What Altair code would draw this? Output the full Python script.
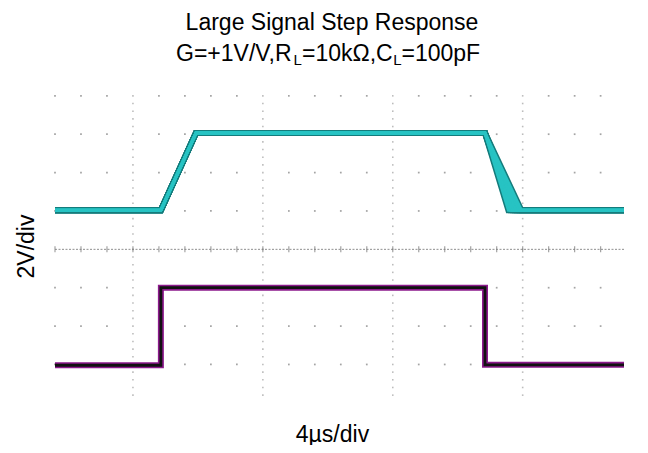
import altair as alt
import pandas as pd
import numpy as np

# ---- data (time in µs, 4 µs per grid column; voltage in V, 2 V per grid row) ----
out_x = [0.0, 16.3, 21.7, 66.2, 70.4, 87.6]
out_y = [2.04, 2.04, 6.06, 6.06, 2.04, 2.04]
out_fall_ends = [69.8, 70.1, 70.4, 70.7, 71.0, 71.4, 71.8]
in_x = [0.0, 16.3, 16.3, 66.2, 66.2, 87.6]
in_y = [-6.04, -6.04, -2.0, -2.0, -6.02, -6.02]

grid_cols = [4 * k for k in range(22)]
grid_rows = [8, 6, 4, 2, -2, -4, -6]
major_cols = [12, 32, 52, 72]
major_col_dots = [round(-7.6 + 0.4 * i, 2) for i in range(40)]

title_text = "Large Signal Step Response"

FONT = "Liberation Sans"
X_DOMAIN = [0, 87.6]
Y_DOMAIN = [-7.8, 8.2]

xs = alt.Scale(domain=X_DOMAIN, nice=False, zero=False)
ys = alt.Scale(domain=Y_DOMAIN, nice=False, zero=False)
xax = alt.Axis(labels=False, ticks=False, domain=False, grid=False, title="4µs/div",
               titleX=277, titleY=42, titleBaseline="alphabetic", titleAlign="center")
yax = alt.Axis(labels=False, ticks=False, domain=False, grid=False, title="2V/div",
               titleX=-22, titleY=154, titleBaseline="alphabetic", titleAlign="center", titleAngle=-90)

def X(f):
    return alt.X(f, type="quantitative", scale=xs, axis=xax)

def Y(f):
    return alt.Y(f, type="quantitative", scale=ys, axis=yax)

# traces table
rows = []
for j, fe in enumerate(out_fall_ends):
    xx = list(out_x)
    xx[4] = fe
    for i, (a, b) in enumerate(zip(xx, out_y)):
        rows.append({"trace": f"out{j}", "i": i, "t": a, "v": b})
out_df = pd.DataFrame(rows)
in_df = pd.DataFrame({"trace": "in", "i": range(len(in_x)), "t": in_x, "v": in_y})

# grid tables
minor = pd.DataFrame([{"t": c, "v": r} for c in grid_cols for r in grid_rows if c not in major_cols])
majv = pd.DataFrame([{"t": c, "v": d} for c in major_cols for d in major_col_dots])
hline = pd.DataFrame({"t": [X_DOMAIN[0]], "t2": [X_DOMAIN[1]], "v": [0]})
hticks = pd.DataFrame({"t": grid_cols, "v": [0] * len(grid_cols)})

dots = alt.Chart(minor).mark_square(size=3, color="#9a9a9a", opacity=0.9).encode(x=X("t"), y=Y("v"))
mdots = alt.Chart(majv).mark_square(size=2.5, color="#a0a0a0").encode(x=X("t"), y=Y("v"))
hl = alt.Chart(hline).mark_rule(color="#8f8f8f", strokeDash=[2, 1.5], strokeWidth=1).encode(
    x=X("t"), x2="t2", y=Y("v"))
ht = alt.Chart(hticks).mark_tick(color="#7a7a7a", size=6, thickness=1.2, orient="vertical").encode(
    x=X("t"), y=Y("v"))

out_outer = alt.Chart(out_df).mark_line(color="#147c7c", strokeWidth=6).encode(
    x=X("t"), y=Y("v"), detail="trace:N", order="i:Q")
out_inner = alt.Chart(out_df).mark_line(color="#27c3c3", strokeWidth=3).encode(
    x=X("t"), y=Y("v"), detail="trace:N", order="i:Q")
in_outer = alt.Chart(in_df).mark_line(color="#8c1a8c", strokeWidth=6).encode(
    x=X("t"), y=Y("v"), order="i:Q")
in_inner = alt.Chart(in_df).mark_line(color="#111111", strokeWidth=2.8).encode(
    x=X("t"), y=Y("v"), order="i:Q")

# title and subtitle (with subscripts) as text
title_mark = alt.Chart(pd.DataFrame({"s": [title_text]})).mark_text(
    font=FONT, fontSize=23, align="center", baseline="alphabetic", color="black"
).encode(x=alt.value(277), y=alt.value(-62), text="s:N")

sub_y = -31
seg_specs = [
    ("G=+1V/V,R", 121.0, 23, 0),
    ("L", 238.6, 15, 4),
    ("=10kΩ,C", 247.0, 23, 0),
    ("L", 338.2, 15, 4),
    ("=100pF", 346.5, 23, 0),
]
texts = [title_mark]
for s, xpos, fs, dy in seg_specs:
    texts.append(
        alt.Chart(pd.DataFrame({"s": [s]})).mark_text(
            font=FONT, fontSize=fs, align="left", baseline="alphabetic", color="black", dy=dy
        ).encode(x=alt.value(xpos), y=alt.value(sub_y), text="s:N")
    )

chart = alt.layer(dots, mdots, hl, ht, out_outer, out_inner, in_outer, in_inner, *texts).properties(
    width=569,
    height=307,
    autosize=alt.AutoSizeParams(type="none"),
    padding={"left": 47, "top": 84, "right": 10, "bottom": 46},
).configure_view(stroke=None).configure_axis(
    titleFont=FONT, titleFontSize=23, titleFontWeight="normal", titleColor="black"
)

chart.save("out.html", embed_options={"renderer": "svg", "actions": False})
